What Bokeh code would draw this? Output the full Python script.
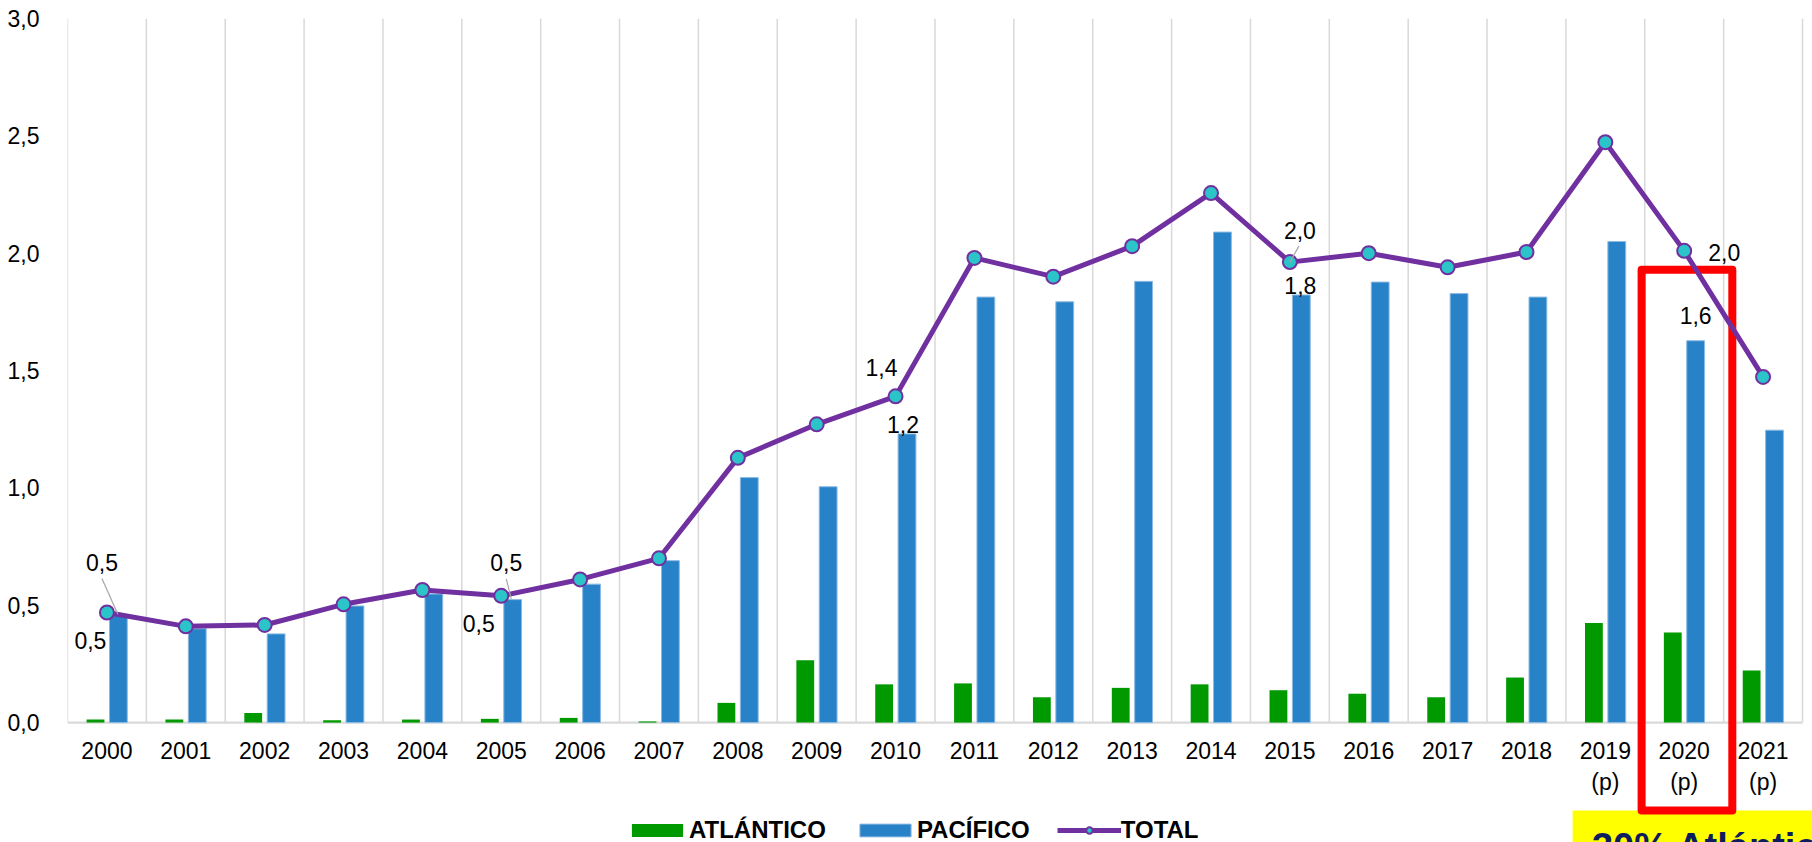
from bokeh.plotting import figure
from bokeh.models import ColumnDataSource, FixedTicker, Legend, LegendItem, Range1d, BoxAnnotation
from bokeh.embed import file_html
from bokeh.resources import INLINE
from bokeh.core.properties import value

# ---------------- data ----------------
years = ["2000", "2001", "2002", "2003", "2004", "2005", "2006", "2007", "2008", "2009", "2010",
         "2011", "2012", "2013", "2014", "2015", "2016", "2017", "2018", "2019", "2020", "2021"]
second_line = ["", "", "", "", "", "", "", "", "", "", "",
               "", "", "", "", "", "", "", "", "(p)", "(p)", "(p)"]
atlantico = [0.013, 0.013, 0.041, 0.010, 0.013, 0.016, 0.020, 0.005, 0.084, 0.266, 0.163,
             0.167, 0.108, 0.148, 0.163, 0.138, 0.123, 0.108, 0.192, 0.424, 0.384, 0.222]
pacifico = [0.456, 0.400, 0.378, 0.497, 0.548, 0.524, 0.590, 0.690, 1.044, 1.005, 1.230,
            1.813, 1.793, 1.880, 2.090, 1.822, 1.877, 1.828, 1.813, 2.050, 1.627, 1.246]
total = [0.469, 0.410, 0.416, 0.504, 0.565, 0.540, 0.610, 0.700, 1.128, 1.271, 1.390,
         1.980, 1.900, 2.030, 2.256, 1.962, 2.000, 1.940, 2.005, 2.473, 2.010, 1.473]
labelled_years = ["2000", "2005", "2010", "2015", "2020"]
highlight_year = "2020"
note_text = "30% Atlántico"
y_ticks = [0.0, 0.5, 1.0, 1.5, 2.0, 2.5, 3.0]
series_names = ["ATLÁNTICO", "PACÍFICO", "TOTAL"]

# ---------------- style / layout ----------------
FONT = "Liberation Sans"
GREEN = "#009A00"
BLUE = "#2882C8"
PURPLE = "#7030A0"
CYAN = "#2BC4C8"
GRID = "#D9D9D9"
W, H = 1812, 842
LEFT, TOP = 67, 18
PX_X = 1735 / 22.0     # pixels per category
PX_Y = 234.7           # pixels per unit of value
x_end = (W - LEFT) / PX_X
y_start = 3.0 - (H - TOP) / PX_Y
OFF = 0.145
BW = 0.226

# label offsets in screen pixels (dx, dy) — dy positive downward
tot_off = {"2000": (-5, -50), "2005": (5, -33), "2010": (-14, -29), "2015": (10, -32), "2020": (40, 2)}
pac_off = {"2000": (-28, 25), "2005": (-34, 24), "2010": (-4, -9), "2015": (-1, -9), "2020": (0, -25)}
leaders = {"2000": ((-5, -34), (11, 2)), "2005": ((5, -17), (10, 3)), "2015": ((9, -16), (0, 0))}

n = len(years)
xc = [i + 0.5 for i in range(n)]

p = figure(width=W, height=H, x_range=Range1d(0, x_end), y_range=Range1d(y_start, 3.0),
           output_backend="svg", toolbar_location=None, x_axis_location=None,
           min_border_left=LEFT, min_border_top=TOP, min_border_right=0, min_border_bottom=0)
p.outline_line_color = None
p.xgrid.visible = False
p.ygrid.visible = False
p.background_fill_color = "white"
p.border_fill_color = "white"

yax = p.yaxis[0]
yax.ticker = FixedTicker(ticks=y_ticks)
yax.major_label_overrides = {t: f"{t:.1f}".replace(".", ",") for t in y_ticks}
yax.axis_line_color = None
yax.major_tick_line_color = None
yax.minor_tick_line_color = None
yax.major_label_standoff = 22
yax.major_label_text_font = FONT
yax.major_label_text_font_size = "23px"
yax.major_label_text_color = "#000000"

# note box (yellow) under everything
p.add_layout(BoxAnnotation(left=19.085, top=-0.375, fill_color="#FFFF00", fill_alpha=1.0,
                           line_color=None, level="underlay"))

# vertical gridlines at category boundaries
p.segment(x0=list(range(n + 1)), y0=[0] * (n + 1), x1=list(range(n + 1)), y1=[3.0] * (n + 1),
          line_color=GRID, line_width=1.5)
# category axis line
p.segment(x0=[0], y0=[0], x1=[n], y1=[0], line_color=GRID, line_width=2.2)

g = p.vbar(x=[c - OFF for c in xc], top=atlantico, width=BW, fill_color=GREEN, line_color=None)
b = p.vbar(x=[c + OFF for c in xc], top=pacifico, width=BW, fill_color=BLUE,
           line_color="#8DBBE3", line_width=1)

# highlight box
hi = years.index(highlight_year)
p.quad(left=[hi - 0.04], right=[hi + 1.11], top=[1.93], bottom=[-0.375], fill_alpha=0,
       line_color="#FF0000", line_width=8, line_join="round")

ln = p.line(xc, total, line_color=PURPLE, line_width=5, line_join="round")
sc = p.scatter(xc, total, size=14, fill_color=CYAN, line_color=PURPLE, line_width=2)

# leader lines
lx0, ly0, lx1, ly1 = [], [], [], []
for yr, ((sx0, sy0), (sx1, sy1)) in leaders.items():
    i = years.index(yr)
    lx0.append(xc[i] + sx0 / PX_X); ly0.append(total[i] - sy0 / PX_Y)
    lx1.append(xc[i] + sx1 / PX_X); ly1.append(total[i] - sy1 / PX_Y)
p.segment(x0=lx0, y0=ly0, x1=lx1, y1=ly1, line_color="#A6A6A6", line_width=1.2)

# data labels
lab = dict(x=[], y=[], text=[], dx=[], dy=[])
for yr in labelled_years:
    i = years.index(yr)
    lab["x"].append(xc[i]); lab["y"].append(total[i])
    lab["text"].append(f"{total[i]:.1f}".replace(".", ","))
    lab["dx"].append(tot_off[yr][0]); lab["dy"].append(tot_off[yr][1])
    lab["x"].append(xc[i] + OFF); lab["y"].append(pacifico[i])
    lab["text"].append(f"{pacifico[i]:.1f}".replace(".", ","))
    lab["dx"].append(pac_off[yr][0]); lab["dy"].append(pac_off[yr][1])
p.text(x="x", y="y", text="text", x_offset="dx", y_offset="dy", source=ColumnDataSource(lab),
       text_font=value(FONT), text_font_size="23px", text_color="#000000",
       text_align="center", text_baseline="middle")

# category labels
p.text(x=xc, y=[0] * n, text=years, y_offset=28, text_font=value(FONT), text_font_size="23px",
       text_color="#000000", text_align="center", text_baseline="middle")
sl = [(x, t) for x, t in zip(xc, second_line) if t]
p.text(x=[s[0] for s in sl], y=[0] * len(sl), text=[s[1] for s in sl], y_offset=59,
       text_font=value(FONT), text_font_size="23px", text_color="#000000",
       text_align="center", text_baseline="middle")

# note text (partly cut by the bottom edge, as in the reference)
p.text(x=[19.33], y=[-0.44], text=[note_text], text_font=value(FONT), text_font_style="bold",
       text_font_size="38px", text_color="#0C1C5C", text_align="left", text_baseline="top")

legend = Legend(items=[LegendItem(label=series_names[0], renderers=[g]),
                       LegendItem(label=series_names[1], renderers=[b]),
                       LegendItem(label=series_names[2], renderers=[ln, sc])],
                orientation="horizontal", location=(558, -2), glyph_width=64, glyph_height=16,
                label_standoff=0, spacing=27, padding=0, margin=0,
                label_text_font=FONT, label_text_font_style="bold", label_text_font_size="24px",
                label_text_color="#000000", border_line_color=None, background_fill_alpha=0)
p.add_layout(legend)

open("out.html", "w").write(file_html(p, INLINE))
